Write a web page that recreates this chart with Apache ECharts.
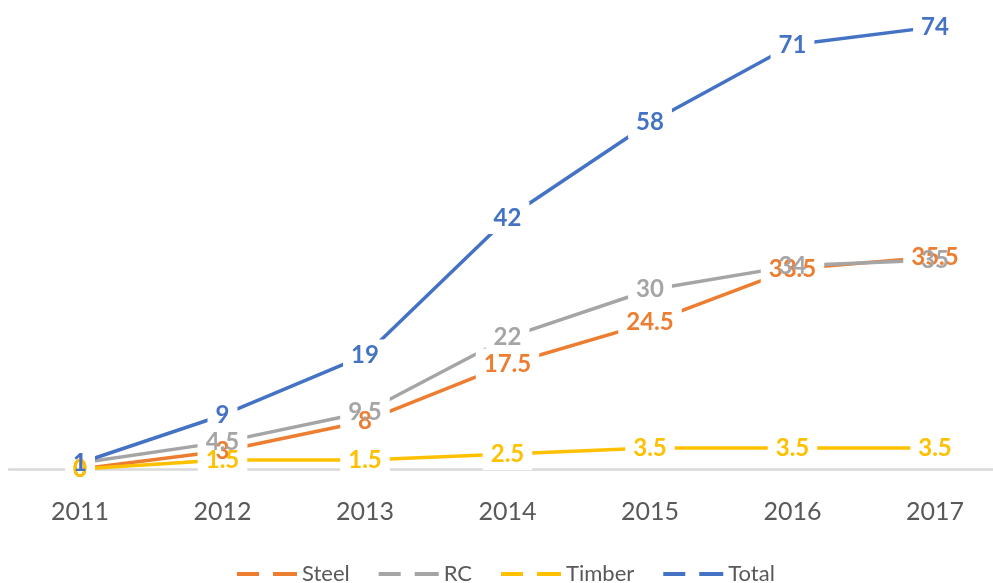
<!DOCTYPE html>
<html>
<head>
<meta charset="utf-8">
<script src="https://cdn.jsdelivr.net/npm/echarts@6/dist/echarts.min.js"></script>
<style>html,body{margin:0;padding:0;background:#fff;}#c{width:993px;height:583px;}</style>
</head>
<body>
<div id="c"></div>
<script>
const years = ['2011', '2012', '2013', '2014', '2015', '2016', '2017'];
const steel = [0, 3, 8, 17.5, 24.5, 33.5, 35.5];
const rc = [1, 4.5, 9.5, 22, 30, 34, 35];
const timber = [0, 1.5, 1.5, 2.5, 3.5, 3.5, 3.5];
const total = [1, 9, 19, 42, 58, 71, 74];
const names = ['Steel', 'RC', 'Timber', 'Total'];
const colors = ['#ED7D31', '#A5A5A5', '#FFC000', '#4472C4'];
const values = [steel, rc, timber, total];

const FONT = 'Lato, "Open Sans", sans-serif';
const chart = echarts.init(document.getElementById('c'), null, {renderer: 'canvas'});

const labelBase = {show: true, position: 'inside', padding: [4, 8], fontSize: 24,
  fontWeight: 'bold', fontFamily: FONT};
const series = [];
// layer 1: lines
names.forEach((n, i) => {
  series.push({
    name: n, type: 'line', data: values[i], color: colors[i],
    xAxisIndex: 0, yAxisIndex: 0,
    symbol: 'circle', symbolSize: 0, z: 2,
    lineStyle: {width: 3.5, color: colors[i], cap: 'butt'},
    label: {show: false},
    emphasis: {disabled: true}, animation: false
  });
});
// layer 2: white boxes behind labels (hide lines around values)
names.forEach((n, i) => {
  series.push({
    name: n, type: 'line', data: values[i], color: colors[i],
    xAxisIndex: 0, yAxisIndex: 0,
    symbol: 'circle', symbolSize: 0, z: 3,
    lineStyle: {width: 0, opacity: 0},
    label: Object.assign({}, labelBase, {color: 'rgba(0,0,0,0)', backgroundColor: '#fff'}),
    emphasis: {disabled: true}, animation: false
  });
});
// layer 3: coloured label text
names.forEach((n, i) => {
  series.push({
    name: n, type: 'line', data: values[i], color: colors[i],
    xAxisIndex: 0, yAxisIndex: 0,
    symbol: 'circle', symbolSize: 0, z: 4,
    lineStyle: {width: 0, opacity: 0},
    label: Object.assign({}, labelBase, {color: colors[i]}),
    emphasis: {disabled: true}, animation: false
  });
});

chart.setOption({
  backgroundColor: '#fff',
  animation: false,
  grid: [
    {left: 80, right: 58, top: 0, bottom: 114, containLabel: false},
    {left: 9, right: 0, top: 0, bottom: 114, containLabel: false}
  ],
  legend: {
    data: names, left: 232, top: 558, itemGap: 29,
    itemWidth: 60, itemHeight: 4,
    icon: 'path://M0,0h22v4h-22z M36,0h24v4h-24z',
    textStyle: {fontSize: 22, color: '#595959', fontFamily: FONT},
    selectedMode: false
  },
  xAxis: [
    {
      type: 'category', data: years, boundaryGap: false, gridIndex: 0,
      axisLine: {show: false},
      axisTick: {show: false},
      axisLabel: {fontSize: 25, color: '#595959', fontFamily: FONT, margin: 30},
      splitLine: {show: false}
    },
    {
      type: 'category', data: years, boundaryGap: true, gridIndex: 1,
      axisLine: {show: true, lineStyle: {color: '#D9D9D9', width: 2.5}},
      axisTick: {show: false},
      axisLabel: {show: false},
      splitLine: {show: false}
    }
  ],
  yAxis: [
    {type: 'value', min: 0, max: 78.5, show: false, gridIndex: 0, splitLine: {show: false}},
    {type: 'value', min: 0, max: 78.5, show: false, gridIndex: 1, splitLine: {show: false}}
  ],
  tooltip: {show: false},
  series: series
});
</script>
</body>
</html>
